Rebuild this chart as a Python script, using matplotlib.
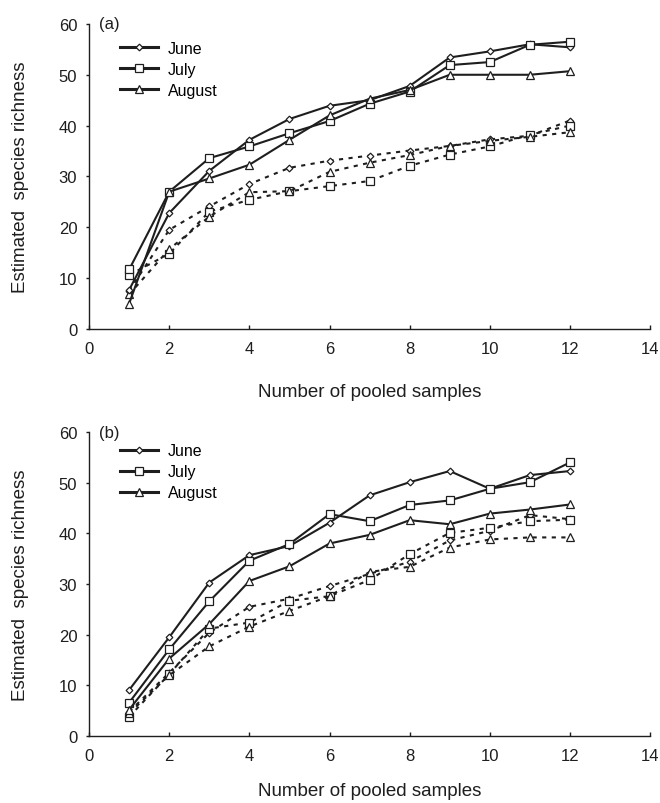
import matplotlib
matplotlib.use("Agg")
import matplotlib.pyplot as plt
from matplotlib.lines import Line2D

plt.rcParams['font.family'] = ['Liberation Sans', 'DejaVu Sans']

samples = list(range(1, 13))
months = ["June", "July", "August"]

# Panel (a)
a_june_solid = [7.7, 22.8, 31.1, 37.2, 41.3, 43.9, 45.0, 47.8, 53.4, 54.6, 56.0, 55.4]
a_july_solid = [11.7, 27.0, 33.6, 35.9, 38.5, 40.9, 44.3, 46.7, 51.9, 52.5, 55.9, 56.5]
a_aug_solid = [5.0, 27.0, 29.6, 32.3, 37.2, 42.0, 45.3, 47.0, 50.0, 50.0, 50.0, 50.7]
a_june_dot = [7.5, 19.5, 24.1, 28.5, 31.7, 33.1, 34.1, 35.1, 36.0, 37.3, 38.0, 41.0]
a_july_dot = [10.6, 14.8, 23.1, 25.4, 27.1, 28.1, 29.1, 32.1, 34.3, 35.9, 38.2, 40.0]
a_aug_dot = [6.8, 15.7, 22.1, 26.9, 27.1, 30.9, 32.7, 34.2, 36.0, 37.0, 37.8, 38.7]

# Panel (b)
b_june_solid = [9.1, 19.5, 30.3, 35.7, 37.5, 42.1, 47.5, 50.1, 52.3, 48.8, 51.5, 52.3]
b_july_solid = [6.6, 17.1, 26.6, 34.6, 37.9, 43.8, 42.4, 45.6, 46.5, 48.8, 50.1, 54.0]
b_aug_solid = [5.2, 15.3, 22.1, 30.6, 33.5, 38.0, 39.7, 42.6, 41.8, 43.9, 44.7, 45.7]
b_june_dot = [4.8, 12.5, 20.4, 25.5, 27.1, 29.6, 32.0, 34.4, 38.6, 40.5, 43.6, 42.8]
b_july_dot = [3.8, 12.2, 21.2, 22.4, 26.7, 27.6, 30.8, 35.9, 40.1, 41.1, 42.4, 42.7]
b_aug_dot = [4.5, 12.0, 17.7, 21.6, 24.7, 27.6, 32.4, 33.4, 37.2, 38.8, 39.2, 39.2]

x_ticks = [0, 2, 4, 6, 8, 10, 12, 14]
y_ticks = [0, 10, 20, 30, 40, 50, 60]

INK = '#1e1e1e'
marker_style = {
    "June": dict(marker='D', ms=3.4),
    "July": dict(marker='s', ms=5.6),
    "August": dict(marker='^', ms=5.2),
}

fig = plt.figure(figsize=(6.6, 8.04), dpi=100)
ax_a = fig.add_axes([0.135, 0.5896, 0.850, 0.3794])
ax_b = fig.add_axes([0.135, 0.0833, 0.850, 0.3781])

panels = [
    (ax_a, "(a)", [a_june_solid, a_july_solid, a_aug_solid],
     [a_june_dot, a_july_dot, a_aug_dot], 0.945, -0.178),
    (ax_b, "(b)", [b_june_solid, b_july_solid, b_aug_solid],
     [b_june_dot, b_july_dot, b_aug_dot], 0.963, -0.150),
]

for ax, tag, solids, dots, leg_y, xl_y in panels:
    for m, d in zip(months, dots):
        ms = marker_style[m]
        ax.plot(samples, d, color=INK, lw=1.5, linestyle=(0, (2, 2.6)),
                marker=ms['marker'], ms=ms['ms'], mfc='white', mec=INK, mew=0.9,
                zorder=2)
    for m, s in zip(months, solids):
        ms = marker_style[m]
        ax.plot(samples, s, color=INK, lw=1.5, linestyle='-',
                marker=ms['marker'], ms=ms['ms'], mfc='white', mec=INK, mew=0.9,
                zorder=3)

    ax.set_xlim(0, 14)
    ax.set_ylim(0, 60)
    ax.set_xticks(x_ticks)
    ax.set_yticks(y_ticks)
    for side in ['top', 'right']:
        ax.spines[side].set_visible(False)
    for side in ['left', 'bottom']:
        ax.spines[side].set_linewidth(1.0)
        ax.spines[side].set_color(INK)
    ax.tick_params(axis='x', direction='in', length=3.2, width=1.0, pad=8.5,
                   labelsize=12, colors=INK)
    ax.tick_params(axis='y', direction='out', length=2.5, width=1.0, pad=6.0,
                   labelsize=12, colors=INK)
    ax.set_xlabel("Number of pooled samples", fontsize=13.5, color=INK, va='top')
    ax.xaxis.set_label_coords(0.5, xl_y)
    ax.set_ylabel("Estimated  species richness", fontsize=13.5, color=INK)
    ax.yaxis.set_label_coords(-0.108, 0.5)
    ax.text(0.018, 1.0, tag, transform=ax.transAxes, fontsize=12, color=INK,
            ha='left', va='center')

    handles = [Line2D([], [], color=INK, lw=2.2, marker=marker_style[m]['marker'],
                      ms=marker_style[m]['ms'], mfc='white', mec=INK, mew=0.9)
               for m in months]
    ax.legend(handles, months, loc='upper left', bbox_to_anchor=(0.055, leg_y),
              frameon=False, fontsize=11.5, handlelength=2.4, handletextpad=0.6,
              labelspacing=0.38, borderpad=0, borderaxespad=0)

fig.savefig("out.png", dpi=100)
